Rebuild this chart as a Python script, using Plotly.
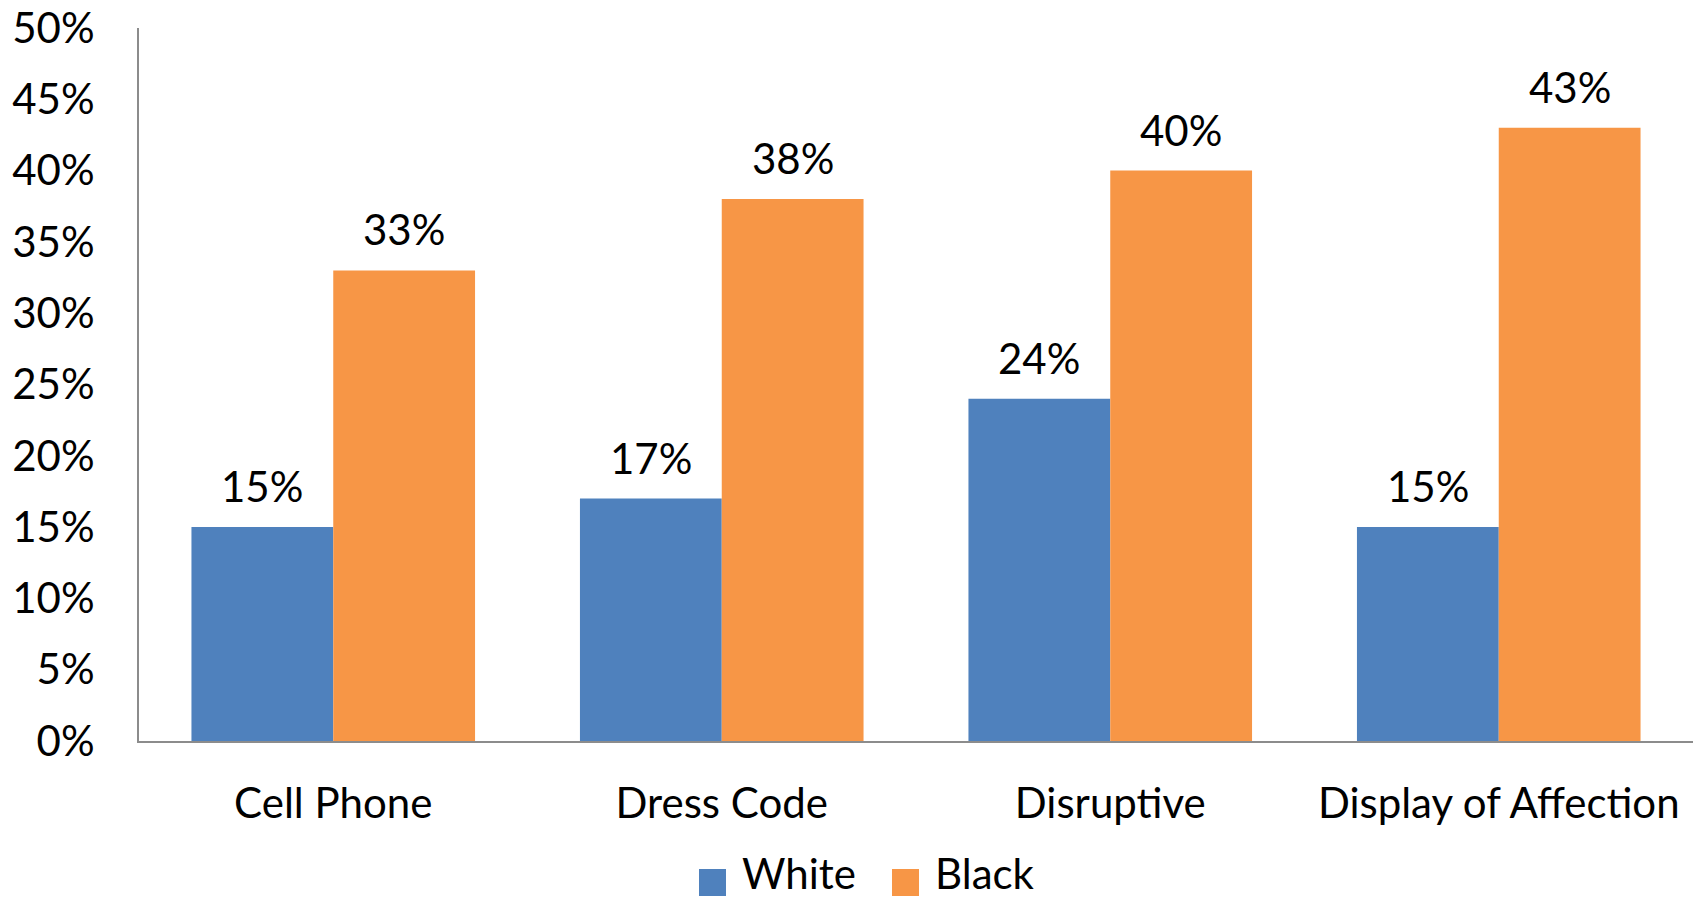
import plotly.graph_objects as go

# Share of students cited, by infraction category
categories = ["Cell Phone", "Dress Code", "Disruptive", "Display of Affection"]
white_pct = [15, 17, 24, 15]
black_pct = [33, 38, 40, 43]
series_names = ["White", "Black"]
series_colors = ["#4F81BD", "#F79646"]
y_ticks = [0, 5, 10, 15, 20, 25, 30, 35, 40, 45, 50]

FONT = "Lato"
FSIZE = 42
BARGAP = 0.27

fig = go.Figure()
for name, vals, color in zip(series_names, [white_pct, black_pct], series_colors):
    fig.add_trace(go.Bar(
        x=categories, y=vals, name=name,
        marker=dict(color=color, line=dict(width=0)),
        showlegend=False,
    ))

# value labels above each bar
half = (1 - BARGAP) / 4
for k, vals in enumerate([white_pct, black_pct]):
    off = -half if k == 0 else half
    for i, v in enumerate(vals):
        fig.add_annotation(
            x=i + off, y=v, text=f"{v}%", showarrow=False,
            yanchor="bottom", yshift=14,
            font=dict(family=FONT, size=FSIZE, color="#000000"),
        )

# legend row beneath the categories
W, H = 1707, 901
L, R, T, B = 139, 14, 28, 160
pw, ph = W - L - R, H - T - B


def px_to_paper(px, py):
    return (px - L) / pw, (H - B - py) / ph


legend_items = [(699, 740), (892, 933)]
for (sq_x, tx_x), name, color in zip(legend_items, series_names, series_colors):
    x0, y0 = px_to_paper(sq_x, 869)
    x1, y1 = px_to_paper(sq_x + 27, 896)
    fig.add_shape(type="rect", xref="paper", yref="paper",
                  x0=x0, x1=x1, y0=y1, y1=y0,
                  fillcolor=color, line=dict(width=0))
    tx, ty = px_to_paper(tx_x, H - 1)
    fig.add_annotation(xref="paper", yref="paper", x=tx, y=ty,
                       xanchor="left", yanchor="bottom", showarrow=False,
                       text=name, font=dict(family=FONT, size=FSIZE, color="#000000"))

fig.update_layout(
    width=W, height=H,
    margin=dict(l=L, r=R, t=T, b=B, autoexpand=False),
    paper_bgcolor="white", plot_bgcolor="white",
    barmode="group", bargap=BARGAP, bargroupgap=0,
    font=dict(family=FONT, size=FSIZE, color="#000000"),
    showlegend=False,
)
fig.update_xaxes(
    type="category", showgrid=False, zeroline=False, automargin=False,
    showline=True, linecolor="#8C8C8C", linewidth=2,
    ticks="", ticklabelstandoff=25,
    tickfont=dict(family=FONT, size=FSIZE, color="#000000"),
)
fig.update_yaxes(
    range=[0, 50], tickvals=y_ticks, ticktext=[f"{t}%" for t in y_ticks],
    showgrid=False, zeroline=False, automargin=False,
    showline=True, linecolor="#8C8C8C", linewidth=2,
    ticks="", ticklabelstandoff=34,
    tickfont=dict(family=FONT, size=FSIZE, color="#000000"),
)

fig.write_html("out.html")
